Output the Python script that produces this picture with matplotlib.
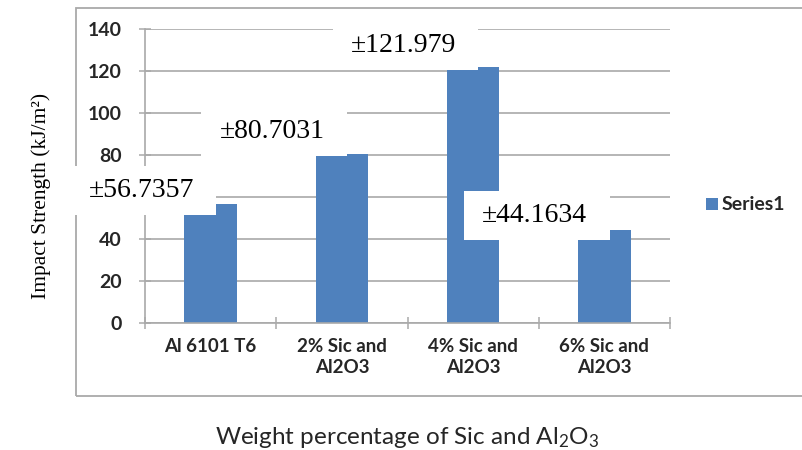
import matplotlib.pyplot as plt
from matplotlib.patches import Rectangle

plt.rcParams['mathtext.fontset'] = 'custom'
plt.rcParams['mathtext.rm'] = 'Lato'
plt.rcParams['mathtext.it'] = 'Lato'

categories = ["Al 6101 T6", "2% Sic and\nAl2O3", "4% Sic and\nAl2O3", "6% Sic and\nAl2O3"]
strength = [56.7357, 80.7031, 121.979, 44.1634]
labels = ["±56.7357", "±80.7031", "±121.979", "±44.1634"]
label_y = [63, 91, 132, 51.2]   # vertical centre of each value box
yticks = [0, 20, 40, 60, 80, 100, 120, 140]
ytick_text = ["0", "20", "40", "", "80", "100", "120", "140"]   # 60 sits under the first box

W, H = 802, 450
fig = plt.figure(figsize=(W / 100, H / 100), dpi=100)

# light grey chart border (right edge runs off the canvas)
fig.add_artist(Rectangle((76 / W, (H - 396) / H), 1.0, 388 / H, transform=fig.transFigure,
                         fill=False, edgecolor='#a9a9a9', lw=1.3, zorder=-1))

ax = fig.add_axes([145 / W, (H - 323) / H, 525 / W, 294 / H])
x = list(range(len(categories)))
ax.bar(x, strength, width=0.4, color='#4f81bd', zorder=2)

ax.set_xlim(-0.5, len(categories) - 0.5)
ax.set_ylim(0, 140)
ax.set_yticks(yticks)
ax.set_yticklabels(ytick_text, fontfamily='Lato', fontweight='bold', fontsize=14, color='#262626')
ax.yaxis.grid(True, color='#b0b0b0', lw=1.3)
ax.set_axisbelow(True)
for s in ['top', 'right']:
    ax.spines[s].set_visible(False)
for s in ['left', 'bottom']:
    ax.spines[s].set_color('#a9a9a9')
    ax.spines[s].set_linewidth(1.2)

# boundary ticks on x, category names as minor labels
ax.set_xticks([i - 0.5 for i in range(len(categories) + 1)])
ax.set_xticklabels([])
ax.set_xticks(x, minor=True)
ax.set_xticklabels(categories, minor=True, fontfamily='Lato', fontweight='bold',
                   fontsize=13.5, color='#262626', linespacing=1.3)
ax.tick_params(axis='x', which='minor', length=0, pad=11)
ax.tick_params(axis='both', which='major', direction='inout', length=9, color='#a9a9a9', width=1.1)
ax.tick_params(axis='y', pad=12)

# white value boxes sitting over the bar tops
for i, (txt, ly) in enumerate(zip(labels, label_y)):
    ax.add_patch(Rectangle((i - 1.07, ly - 11.7), 1.11, 23.4, facecolor='white',
                           edgecolor='none', zorder=3, clip_on=False))
    ax.text(i - 0.53, ly, txt, ha='center', va='center', fontfamily='Liberation Serif',
            fontsize=20, color='black', zorder=4, clip_on=False)

fig.text(41 / W, 1 - 196 / H, "Impact Strength (kJ/m²)", rotation=90, ha='center', va='center',
         fontfamily='Liberation Serif', fontsize=15.5, color='black')
fig.text(407 / W, 1 - 437 / H, r"Weight percentage of Sic and Al$_2$O$_3$", ha='center', va='center',
         fontfamily='Lato', fontsize=17.5, color='#262626')

# legend
fig.add_artist(Rectangle((706 / W, 1 - 210 / H), 12 / W, 12 / H, transform=fig.transFigure,
                         facecolor='#4f81bd', edgecolor='none'))
fig.text(722 / W, 1 - 204 / H, "Series1", ha='left', va='center', fontfamily='Lato',
         fontweight='bold', fontsize=14, color='#262626')

fig.savefig("out.png", dpi=100)
